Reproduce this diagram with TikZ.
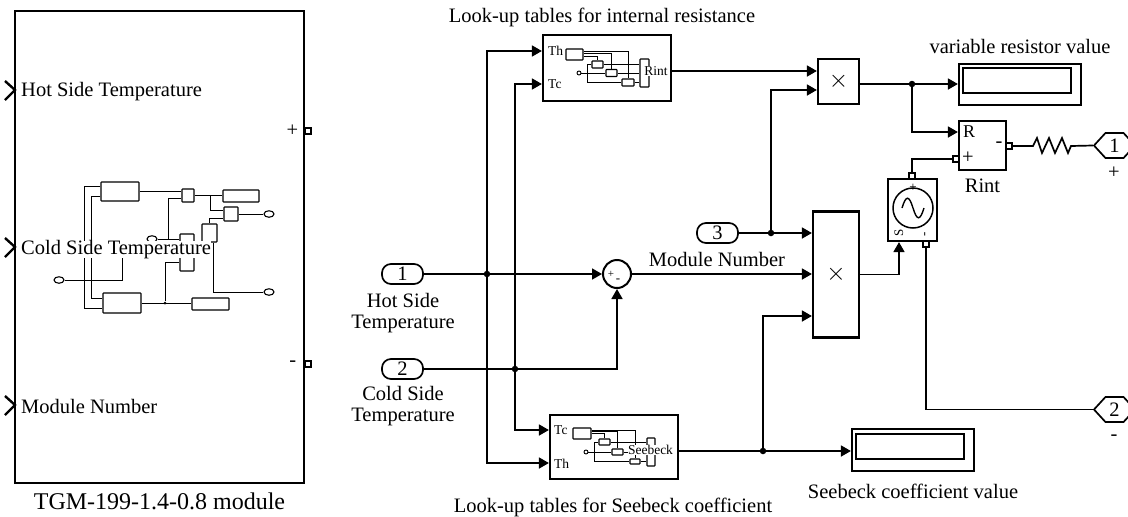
\documentclass[tikz,border=0pt]{standalone}
\usepackage{fontspec}
\setmainfont{Liberation Serif}
\usetikzlibrary{positioning,calc,arrows.meta,shapes.geometric,shapes.symbols}
\tikzset{
blockbox/.style={draw,line width=2.2pt,inner sep=0pt,fill=white,font=\fontsize{24}{25}\selectfont},
sig/.style={line width=1.7pt},
arr/.style={sig,-{Triangle[length=10pt,width=11pt]}},
dot/.style={circle,fill,inner sep=0pt,minimum size=6.5pt},
portsq/.style={draw,line width=2pt,inner sep=0pt,minimum size=6pt,fill=white},
inport/.style={draw,line width=1.7pt,rounded corners=9pt,inner sep=0pt,minimum width=41pt,minimum height=20pt,font=\fontsize{20.5}{21}\selectfont},
outport/.style={draw,line width=1.7pt,shape=signal,signal to=west and east,signal pointer angle=95,inner sep=0pt,minimum width=41pt,minimum height=25pt,font=\fontsize{20.5}{21}\selectfont},
lbl/.style={inner sep=0pt,align=center,font=\fontsize{20.5}{21}\selectfont},
tiny/.style={inner sep=0pt,font=\fontsize{13.5}{14}\selectfont},
mini/.style={draw,line width=1.1pt,inner sep=0pt,fill=white,rounded corners=0.6pt},
wire/.style={line width=1pt},
ring/.style={draw,line width=1.1pt,ellipse,inner sep=0pt,minimum width=10pt,minimum height=6.5pt,fill=white}
}
\begin{document}
\begin{tikzpicture}[x=1pt,y=-1pt]
\useasboundingbox (0,0) rectangle (1128,517);
\node[blockbox,minimum width=289pt,minimum height=472pt] (module) at (159.5,247) {};
\node[lbl,font=\fontsize{24}{25}\selectfont,below=9pt of module] (modcap) {TGM-199-1.4-0.8 module};
\draw[line width=2.4pt] (5,81) -- (15,90) -- (5,100);
\draw[line width=2.4pt] (5,238) -- (15,247) -- (5,257);
\draw[line width=2.4pt] (5,396) -- (15,405) -- (5,415);
\node[lbl,anchor=west] (lhot) at (21,92) {Hot Side Temperature};
\node[lbl,anchor=west] (lmod) at (21,406) {Module Number};
\node[portsq] (pplus) at (307.5,131) {};
\node[portsq] (pminus) at (307.5,363.5) {};
\node[lbl,left=5pt of pplus] (lplus) {+};
\node[lbl,left=7pt of pminus] (lminus) {-};
\node[mini,minimum width=38pt,minimum height=19pt] (upbox) at (120,191.5) {};
\node[mini,minimum width=38pt,minimum height=20pt] (lowbox) at (122,303) {};
\node[mini,minimum width=12pt,minimum height=13pt] (sma) at (188,195.5) {};
\node[mini,minimum width=36pt,minimum height=12pt] (disa) at (241,196) {};
\node[mini,minimum width=14pt,minimum height=14pt] (smb) at (231,214) {};
\node[mini,minimum width=15pt,minimum height=18pt] (smc) at (209.5,233) {};
\node[mini,minimum width=14pt,minimum height=37pt] (mulb) at (187,252.5) {};
\node[mini,minimum width=37pt,minimum height=12pt] (disb) at (210.5,304) {};
\node[ring] (cone) at (269,214) {};
\node[ring] (ctwo) at (269,292) {};
\node[ring] (cthree) at (152,239) {};
\node[ring] (cfour) at (59,280) {};
\node[dot,minimum size=3pt] (jlow) at (165,303) {};
\draw[wire] ([yshift=5pt]upbox.west) -- ++(-16,0) |- ([yshift=-5pt]lowbox.west);
\draw[wire] ([yshift=-4.5pt]upbox.west) -- ++(-9,0) |- ([yshift=5pt]lowbox.west);
\draw[wire] (upbox.east) -- (upbox.east -| sma.west);
\draw[wire] (sma.east) -- (sma.east -| disa.west);
\draw[wire] ([xshift=16pt]sma.east) |- ([yshift=4pt]smb.west);
\draw[wire] (smb.east) -- (cone.west);
\draw[wire] (smc.north) |- ([yshift=-4pt]smb.west);
\draw[wire] ([xshift=4pt]smc.south) |- (ctwo.west);
\draw[wire] (cthree.east) -- (cthree.east -| mulb.west);
\draw[wire] ([xshift=11pt]cthree.east) |- ([yshift=-3pt]sma.west);
\draw[wire] (lowbox.east) -- (disb.west |- lowbox.east);
\draw[wire] (jlow) |- ([yshift=-10pt]mulb.west);
\draw[wire] (cfour.east) -- ++(58,0) -- ++(0,-25);
\node[lbl,anchor=west,fill=white,text height=13pt,text depth=4pt] (lcold) at (21,249.5) {Cold Side Temperature};
\node[inport] (inone) at (402.5,274) {1};
\node[inport] (intwo) at (402.5,369) {2};
\node[inport] (inthree) at (717.5,233) {3};
\node[lbl] (lhside) at (403,313) {Hot Side\\Temperature};
\node[lbl] (lcside) at (403,406) {Cold Side\\Temperature};
\node[lbl] (lnum) at (717,259.5) {Module Number};
\node[blockbox,minimum width=128pt,minimum height=66pt] (rinttbl) at (607,68) {};
\node[blockbox,minimum width=128pt,minimum height=64pt] (seebtbl) at (614,447) {};
\node[lbl] (lrinttbl) at (602,17) {Look-up tables for internal resistance};
\node[lbl] (lseebtbl) at (613,507) {Look-up tables for Seebeck coefficient};
\node[tiny,anchor=west] (lth) at (548,51) {Th};
\node[tiny,anchor=west] (ltc) at (548,84) {Tc};
\node[tiny,anchor=west] (stc) at (554,430) {Tc};
\node[tiny,anchor=west] (sth) at (554,464) {Th};
\node[mini,minimum width=17pt,minimum height=11pt] (ra) at (574.5,54.5) {};
\node[mini,minimum width=11pt,minimum height=7pt] (rb) at (597.5,64.5) {};
\node[mini,minimum width=11pt,minimum height=7pt] (rc) at (611.5,73) {};
\node[mini,minimum width=12pt,minimum height=7pt] (rd) at (628,82.5) {};
\node[mini,minimum width=9pt,minimum height=28pt] (rmux) at (644.5,73) {};
\node[draw,circle,line width=0.9pt,inner sep=0pt,minimum size=4pt] (rcirc) at (579,73) {};
\draw[wire] ([yshift=3.5pt]ra.east) -| (rd.north);
\draw[wire] ([yshift=1.5pt]ra.east) -| (rc.north);
\draw[wire] ([yshift=-1.5pt]ra.east) -| (rb.north);
\draw[wire] (rcirc.east) -- (rc.west);
\draw[wire] (rc.east) -- (rmux.west);
\draw[wire] (rb.west) -- ++(-4,0) |- (rd.west);
\draw[wire] (rb.east) -- (rb.east -| rmux.west);
\draw[wire] (rd.east) -- (rd.east -| rmux.west);
\node[tiny,fill=white] (lrint) at (656,71) {Rint};
\node[mini,minimum width=18pt,minimum height=11pt] (sa) at (582,433.5) {};
\node[mini,minimum width=11pt,minimum height=6pt] (sb) at (604.5,442) {};
\node[mini,minimum width=11pt,minimum height=6pt] (sc) at (617.5,452) {};
\node[mini,minimum width=10pt,minimum height=5pt] (sd) at (635,461.5) {};
\node[mini,minimum width=8pt,minimum height=28pt] (smux) at (651,452) {};
\node[draw,circle,line width=0.9pt,inner sep=0pt,minimum size=4pt] (scirc) at (586,452) {};
\draw[wire] ([yshift=3.5pt]sa.east) -| (sd.north);
\draw[wire] ([yshift=2pt]sa.east) -| (sc.north);
\draw[wire] ([yshift=0.5pt]sa.east) -| (sb.north);
\draw[wire] (scirc.east) -- (sc.west);
\draw[wire] (sc.east) -- (smux.west);
\draw[wire] (sb.west) -- ++(-4,0) |- (sd.west);
\draw[wire] (sb.east) -- (sb.east -| smux.west);
\draw[wire] (sd.east) -- (sd.east -| smux.west);
\node[tiny,fill=white] (lseeb) at (650.5,450) {Seebeck};
\node[blockbox,minimum width=41pt,minimum height=45pt] (multone) at (838.5,81.5) {$\times$};
\node[blockbox,minimum width=46pt,minimum height=126pt] (multtwo) at (836,274.5) {$\times$};
\node[draw,circle,line width=2pt,inner sep=0pt,minimum size=28pt] (sumblk) at (617,274) {};
\node[tiny,font=\fontsize{11}{12}\selectfont] (lsumplus) at (611,274) {+};
\node[tiny,font=\fontsize{13}{14}\selectfont] (lsumminus) at (618,281) {-};
\node[blockbox,minimum width=122pt,minimum height=41pt] (dispr) at (1020,84.5) {};
\node[draw,line width=1.4pt,inner sep=0pt,minimum width=108pt,minimum height=25pt] (dispri) at (1017,80.5) {};
\node[lbl,above=9pt of dispr] (ldispr) {variable resistor value};
\node[blockbox,minimum width=122pt,minimum height=42pt] (disps) at (913,450) {};
\node[draw,line width=1.4pt,inner sep=0pt,minimum width=108pt,minimum height=25pt] (dispsi) at (910,446.5) {};
\node[lbl,below=12pt of disps] (ldisps) {Seebeck coefficient value};
\node[blockbox,minimum width=47pt,minimum height=49pt] (rintblk) at (982.5,145.5) {};
\node[lbl,below=8pt of rintblk] (lrintblk) {Rint};
\node[lbl,font=\fontsize{18}{19}\selectfont] (lr) at (969,132) {R};
\node[lbl] (lrp) at (968,158) {+};
\node[lbl] (lrm) at (999,145) {-};
\node[blockbox,minimum width=49pt,minimum height=62pt] (srcblk) at (912.5,210) {};
\node[draw,circle,line width=1.5pt,inner sep=0pt,minimum size=40pt] (srccirc) at (913,208) {};
\draw[wire,line width=1.4pt] (902,208) .. controls (906,195) and (909,195) .. (913,208) .. controls (917,221) and (920,221) .. (924,208);
\node[tiny,font=\fontsize{13}{14}\selectfont] (lsrcp) at (913,188) {+};
\node[tiny,font=\fontsize{13}{14}\selectfont,rotate=90] (lsrcs) at (899,233) {S};
\node[tiny,font=\fontsize{13}{14}\selectfont,rotate=90] (lsrcm) at (926,234) {-};
\node[portsq] (rintl) at (956,159) {};
\node[portsq] (rintr) at (1009,146) {};
\node[portsq] (srct) at (912,176) {};
\node[portsq] (srcb) at (926,244) {};
\node[outport] (outone) at (1114.5,145.5) {1};
\node[outport] (outtwo) at (1114.5,409.5) {2};
\node[lbl] (loutone) at (1114,173) {+};
\node[lbl] (louttwo) at (1114,438) {-};
\node[dot] (jhot) at (487,274) {};
\node[dot] (jcold) at (515,369) {};
\node[dot] (jmod) at (771,233) {};
\node[dot] (jseeb) at (763,451) {};
\node[dot] (jres) at (912,84) {};
\coordinate (resl) at (1033,146);
\coordinate (resr) at (1071,146);
\draw[arr] (inone.east) -- (jhot) -- (sumblk.west);
\draw[sig] (intwo.east) -- (jcold);
\draw[arr] (jcold) -| (sumblk.south);
\draw[arr] (jhot) |- ([yshift=17pt]rinttbl.west);
\draw[arr] (jhot) |- ([yshift=-16pt]seebtbl.west);
\draw[arr] (jcold) |- ([yshift=-16pt]rinttbl.west);
\draw[arr] (jcold) |- ([yshift=17pt]seebtbl.west);
\draw[arr] (sumblk.east) -- (sumblk.east -| multtwo.west);
\draw[sig] (inthree.east) -- (jmod);
\draw[arr] (jmod) -- (jmod -| multtwo.west);
\draw[arr] (jmod) |- ([yshift=-8.5pt]multone.west);
\draw[arr] ([yshift=-3pt]rinttbl.east) -- ([yshift=10.5pt]multone.west);
\draw[sig] ([yshift=-2.5pt]multone.east) -- (jres);
\draw[arr] (jres) -- (jres -| dispr.west);
\draw[arr] (jres) |- ([yshift=13.5pt]rintblk.west);
\draw[sig] ([yshift=-4pt]seebtbl.east) -- (jseeb);
\draw[arr] (jseeb) -- (jseeb -| disps.west);
\draw[arr] (jseeb) |- ([yshift=-41.5pt]multtwo.west);
\draw[arr] (multtwo.east) -| ([xshift=-13.5pt]srcblk.south);
\draw[sig] (rintl.west) -| (srct.north);
\draw[sig] (rintr.east) -- (resl) -- ++(4,-8) -- ++(5,15) -- ++(7,-15) -- ++(6,15) -- ++(7,-15) -- ++(6,15) -- (resr) -- (outone.west);
\draw[sig] (srcb.south) |- (outtwo.west);
\end{tikzpicture}
\end{document}
